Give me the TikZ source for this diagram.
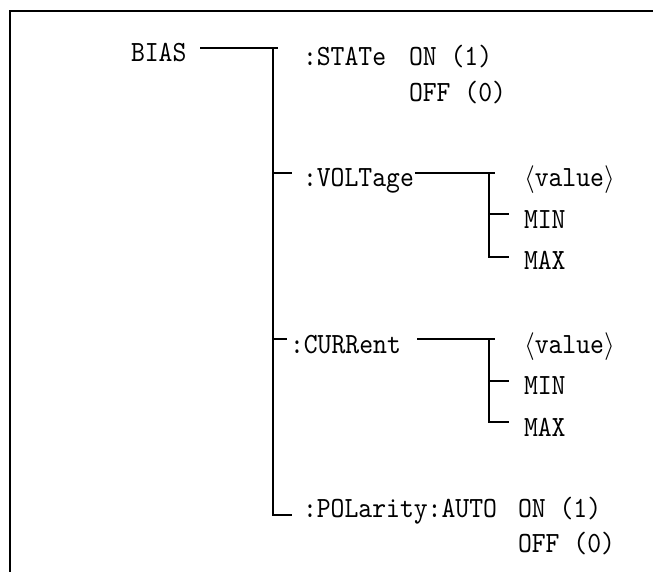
\documentclass[tikz,border=0pt]{standalone}
\usepackage{fontspec}
\newfontfamily\cmdfont[FakeStretch=0.9]{lmmono10-regular.otf}
\tikzset{every picture/.style={line width=1.5pt}}
\tikzset{cmd/.style={anchor=base west,inner sep=0pt,font=\cmdfont\fontsize{22}{26}\selectfont}}

\begin{document}
\begin{tikzpicture}[x=0.75pt,y=0.75pt,yscale=-1,xscale=1]
	\useasboundingbox (0,0) rectangle (653,572);
	
	%Shape: Frame
	\draw   (653,11) -- (10,11) -- (10,572) ;
	
	% Text Node
	\node [cmd] (bias) at (130,61) {BIAS};
	% Text Node
	\node [cmd] (state) at (302,65) {:STATe};
	% Text Node
	\node [cmd] (stateon) at (408,65) {ON (1)};
	% Text Node
	\node [cmd] (stateoff) at (408,101) {OFF (0)};
	% Text Node
	\node [cmd] (volt) at (302,186) {:VOLTage};
	% Text Node
	\node [cmd] (voltval) at (523,186) {$\langle$value$\rangle$};
	% Text Node
	\node [cmd] (voltmin) at (523,228) {MIN};
	% Text Node
	\node [cmd] (voltmax) at (523,269) {MAX};
	% Text Node
	\node [cmd] (curr) at (289,353) {:CURRent};
	% Text Node
	\node [cmd] (currval) at (523,353) {$\langle$value$\rangle$};
	% Text Node
	\node [cmd] (currmin) at (523,394) {MIN};
	% Text Node
	\node [cmd] (currmax) at (523,436) {MAX};
	% Text Node
	\node [cmd] (pol) at (302,517) {:POLarity:AUTO};
	% Text Node
	\node [cmd] (polon) at (517,517) {ON (1)};
	% Text Node
	\node [cmd] (poloff) at (517,552) {OFF (0)};
	
	% Junctions
	\coordinate (biasR) at (200,48);
	\coordinate (trunkT) at (273,48);
	\coordinate (trunkR) at (278,48);
	\coordinate (trunkB) at (273,515);
	\coordinate (voltL) at (273,173);
	\coordinate (voltS) at (292,173);
	\coordinate (currL) at (273,339);
	\coordinate (currS) at (287,339);
	\coordinate (polS) at (292,515);
	\coordinate (voltR) at (415,173);
	\coordinate (voltE) at (495,173);
	\coordinate (voltT) at (489,173);
	\coordinate (voltM) at (489,214);
	\coordinate (voltB) at (489,257);
	\coordinate (voltMS) at (509,214);
	\coordinate (voltBS) at (509,257);
	\coordinate (currR) at (417,339);
	\coordinate (currE) at (495,339);
	\coordinate (currT) at (489,339);
	\coordinate (currM) at (489,381);
	\coordinate (currB) at (489,422);
	\coordinate (currMS) at (509,381);
	\coordinate (currBS) at (509,422);
	
	%Straight Lines
	\draw    (biasR) -- (trunkR) ;
	\draw    (trunkT) -- (trunkB) -- (polS) ;
	\draw    (voltL) -- (voltS) ;
	\draw    (currL) -- (currS) ;
	%Straight Lines
	\draw    (voltR) -- (voltE) ;
	\draw    (voltT) -- (voltB) -- (voltBS) ;
	\draw    (voltM) -- (voltMS) ;
	%Straight Lines
	\draw    (currR) -- (currE) ;
	\draw    (currT) -- (currB) -- (currBS) ;
	\draw    (currM) -- (currMS) ;
	
\end{tikzpicture}
\end{document}
